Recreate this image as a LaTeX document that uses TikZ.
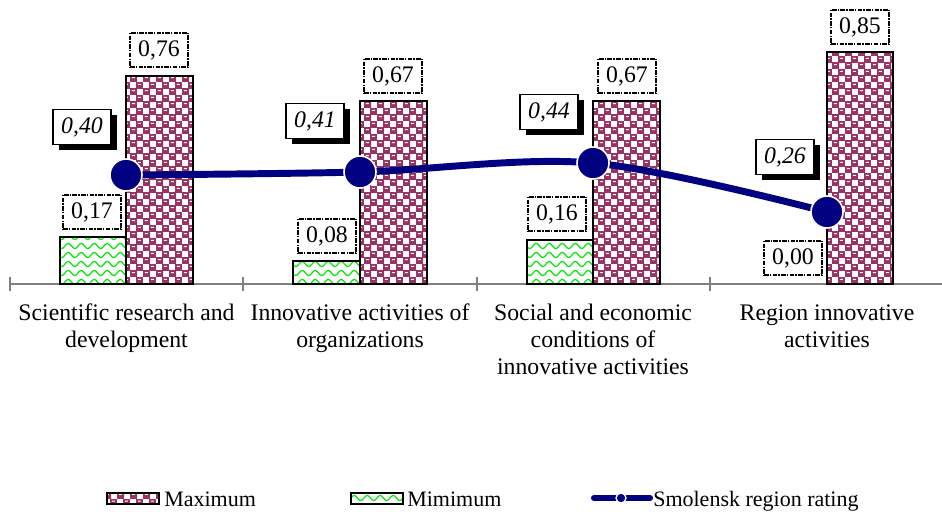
\documentclass[tikz,border=0pt]{standalone}
\usepackage{fontspec}
\setmainfont{Liberation Serif}
\usetikzlibrary{patterns,shadows}
\definecolor{barmaroon}{RGB}{153,51,102}
\definecolor{wavegreen}{RGB}{0,230,0}
\definecolor{linenavy}{RGB}{0,0,128}
\definecolor{axisgray}{RGB}{128,128,128}

\pgfdeclarepatterninherentlycolored{maroonchk}{\pgfpointorigin}{\pgfqpoint{9.75pt}{9.75pt}}{\pgfqpoint{9.75pt}{9.75pt}}{%
  \pgfsetfillcolor{white}%
  \pgfpathrectangle{\pgfpointorigin}{\pgfqpoint{9.75pt}{9.75pt}}\pgfusepath{fill}%
  \pgfsetfillcolor{barmaroon}%
  \pgfpathrectangle{\pgfpointorigin}{\pgfqpoint{5.6pt}{5.6pt}}%
  \pgfpathrectangle{\pgfqpoint{4.875pt}{4.875pt}}{\pgfqpoint{5.6pt}{5.6pt}}%
  \pgfusepath{fill}%
  \pgfsetfillcolor{white}%
  \pgfpathrectangle{\pgfqpoint{1.4pt}{3.2pt}}{\pgfqpoint{2.4pt}{0.8pt}}%
  \pgfpathrectangle{\pgfqpoint{6.275pt}{8.075pt}}{\pgfqpoint{2.4pt}{0.8pt}}%
  \pgfusepath{fill}%
}
\pgfdeclarepatternformonly{greenwave}{\pgfqpoint{-1pt}{-1pt}}{\pgfqpoint{10.75pt}{7.75pt}}{\pgfqpoint{9.75pt}{6.75pt}}{%
  \pgfsetlinewidth{0.9pt}%
  \pgfpathmoveto{\pgfqpoint{0pt}{3pt}}%
  \pgfpathcurveto{\pgfqpoint{1.6pt}{5.5pt}}{\pgfqpoint{3.25pt}{5.5pt}}{\pgfqpoint{4.875pt}{3pt}}%
  \pgfpathcurveto{\pgfqpoint{6.5pt}{0.5pt}}{\pgfqpoint{8.1pt}{0.5pt}}{\pgfqpoint{9.75pt}{3pt}}%
  \pgfusepath{stroke}%
}

\newcommand{\valfont}{\fontsize{17.8}{20.25}\selectfont}
\newcommand{\legfont}{\fontsize{16.5}{19}\selectfont}

\begin{document}
\begin{tikzpicture}[x=0.75pt,y=-0.75pt,
  barmax/.style={pattern=maroonchk, draw=black, line width=1.6pt},
  barmin/.style={pattern=greenwave, pattern color=wavegreen, draw=black, line width=1.6pt},
  valbox/.style={draw=black, fill=white, line width=1.5pt,
    dash pattern=on 3.5pt off 0.9pt on 1.1pt off 0.9pt,
    minimum width=43.5pt, minimum height=26pt, inner sep=0pt, font=\valfont},
  ratebox/.style={draw=black, fill=white, line width=0.8pt,
    drop shadow={shadow xshift=4.3pt, shadow yshift=-4.3pt, fill=black, opacity=1},
    minimum width=43.5pt, minimum height=26pt, inner sep=0pt, font=\valfont\itshape},
  catlabel/.style={align=center, font=\valfont, anchor=base},
  ratedot/.style={circle, fill=linenavy, draw=white, line width=1.2pt, minimum size=24pt, inner sep=0pt},
  rateline/.style={linenavy, line width=5.2pt},
  legtext/.style={anchor=base west, font=\legfont, inner sep=0pt},
  axisline/.style={axisgray, line width=1pt}
]
\useasboundingbox (0,0) rectangle (942,511);

% axis
\coordinate (axL) at (10,284);
\coordinate (axR) at (942,284);
\draw[axisline] (axL) -- (axR);
\foreach \tx in {10,243,477,710}
  \draw[axisline] (\tx,277) -- (\tx,291);

% bars
\draw[barmin] (60,284) rectangle (126,237);
\draw[barmax] (126,284) rectangle (193,76);
\draw[barmin] (293,284) rectangle (360,261);
\draw[barmax] (360,284) rectangle (427,101);
\draw[barmin] (527,284) rectangle (593,240);
\draw[barmax] (593,284) rectangle (660,101);
\draw[barmax] (827,284) rectangle (893,52);

% value labels
\node[valbox] (vmax1) at (159,50) {0,76};
\node[valbox] (vmin1) at (92,212) {0,17};
\node[valbox] (vmax2) at (393,76) {0,67};
\node[valbox] (vmin2) at (327,236) {0,08};
\node[valbox] (vmax3) at (627,76) {0,67};
\node[valbox] (vmin3) at (557,214) {0,16};
\node[valbox] (vmax4) at (860,27) {0,85};
\node[valbox] (vmin4) at (793,258) {0,00};

% rating labels
\node[ratebox] (r1) at (82,127) {0,40};
\node[ratebox] (r2) at (315,121) {0,41};
\node[ratebox] (r3) at (549,112) {0,44};
\node[ratebox] (r4) at (785,157) {0,26};

% rating line
\coordinate (d1) at (126,175);
\coordinate (d2) at (360,172);
\coordinate (d3) at (593,163);
\coordinate (d4) at (827,212);
\draw[rateline] plot[smooth, tension=0.55] coordinates {(d1) (d2) (d3) (d4)};
\node[ratedot] (p1) at (d1) {};
\node[ratedot] (p2) at (d2) {};
\node[ratedot] (p3) at (d3) {};
\node[ratedot] (p4) at (d4) {};

% category labels (anchor = baseline of last line)
\node[catlabel] (c1) at (126.5,347) {Scientific research and\\development};
\node[catlabel] (c2) at (360,347) {Innovative activities of\\organizations};
\node[catlabel] (c3) at (593,374) {Social and economic\\conditions of\\innovative activities};
\node[catlabel] (c4) at (827,347) {Region innovative\\activities};

% legend
\draw[barmax] (107,493) rectangle (159,504);
\node[legtext] (l1) at (164,506) {Maximum};
\draw[barmin] (351,493) rectangle (403,504);
\node[legtext] (l2) at (407,506) {Mimimum};
\coordinate (ls) at (594,498);
\coordinate (le) at (650,498);
\draw[linenavy, line width=4.6pt, line cap=round] (ls) -- (le);
\node[circle, fill=linenavy, draw=white, line width=1pt, minimum size=7.5pt, inner sep=0pt] (ld) at (621,498) {};
\node[legtext] (l3) at (653,506) {Smolensk region rating};
\end{tikzpicture}
\end{document}
